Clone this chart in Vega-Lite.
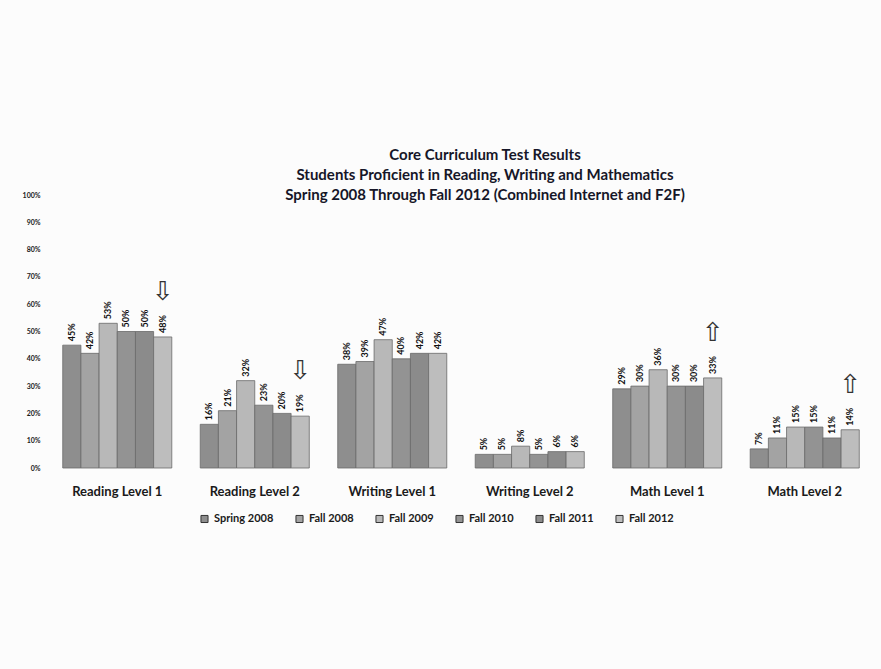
{
  "$schema": "https://vega.github.io/schema/vega-lite/v6.json",
  "width": 824,
  "height": 273,
  "autosize": "none",
  "padding": {"left": 49, "top": 195, "right": 8, "bottom": 201},
  "background": "#fcfcfc",
  "config": {"view": {"stroke": null}, "font": "Lato", "text": {"font": "Lato"}},
  "title": {
    "text": ["Core Curriculum Test Results", "Students Proficient in Reading, Writing and Mathematics", "Spring 2008 Through Fall 2012 (Combined Internet and F2F)"],
    "font": "Lato",
    "fontSize": 15,
    "fontWeight": "bold",
    "color": "#161628",
    "lineHeight": 20,
    "anchor": "middle",
    "frame": "group",
    "dx": 24,
    "offset": -12
  },
  "data": {
    "values": [
      {"test": "Reading Level 1", "term": "Spring 2008", "value": 0.45},
      {"test": "Reading Level 1", "term": "Fall 2008", "value": 0.42},
      {"test": "Reading Level 1", "term": "Fall 2009", "value": 0.53},
      {"test": "Reading Level 1", "term": "Fall 2010", "value": 0.50},
      {"test": "Reading Level 1", "term": "Fall 2011", "value": 0.50},
      {"test": "Reading Level 1", "term": "Fall 2012", "value": 0.48, "arrow": "⇩"},
      {"test": "Reading Level 2", "term": "Spring 2008", "value": 0.16},
      {"test": "Reading Level 2", "term": "Fall 2008", "value": 0.21},
      {"test": "Reading Level 2", "term": "Fall 2009", "value": 0.32},
      {"test": "Reading Level 2", "term": "Fall 2010", "value": 0.23},
      {"test": "Reading Level 2", "term": "Fall 2011", "value": 0.20},
      {"test": "Reading Level 2", "term": "Fall 2012", "value": 0.19, "arrow": "⇩"},
      {"test": "Writing Level 1", "term": "Spring 2008", "value": 0.38},
      {"test": "Writing Level 1", "term": "Fall 2008", "value": 0.39},
      {"test": "Writing Level 1", "term": "Fall 2009", "value": 0.47},
      {"test": "Writing Level 1", "term": "Fall 2010", "value": 0.40},
      {"test": "Writing Level 1", "term": "Fall 2011", "value": 0.42},
      {"test": "Writing Level 1", "term": "Fall 2012", "value": 0.42},
      {"test": "Writing Level 2", "term": "Spring 2008", "value": 0.05},
      {"test": "Writing Level 2", "term": "Fall 2008", "value": 0.05},
      {"test": "Writing Level 2", "term": "Fall 2009", "value": 0.08},
      {"test": "Writing Level 2", "term": "Fall 2010", "value": 0.05},
      {"test": "Writing Level 2", "term": "Fall 2011", "value": 0.06},
      {"test": "Writing Level 2", "term": "Fall 2012", "value": 0.06},
      {"test": "Math Level 1", "term": "Spring 2008", "value": 0.29},
      {"test": "Math Level 1", "term": "Fall 2008", "value": 0.30},
      {"test": "Math Level 1", "term": "Fall 2009", "value": 0.36},
      {"test": "Math Level 1", "term": "Fall 2010", "value": 0.30},
      {"test": "Math Level 1", "term": "Fall 2011", "value": 0.30},
      {"test": "Math Level 1", "term": "Fall 2012", "value": 0.33, "arrow": "⇧"},
      {"test": "Math Level 2", "term": "Spring 2008", "value": 0.07},
      {"test": "Math Level 2", "term": "Fall 2008", "value": 0.11},
      {"test": "Math Level 2", "term": "Fall 2009", "value": 0.15},
      {"test": "Math Level 2", "term": "Fall 2010", "value": 0.15},
      {"test": "Math Level 2", "term": "Fall 2011", "value": 0.11},
      {"test": "Math Level 2", "term": "Fall 2012", "value": 0.14, "arrow": "⇧"}
    ]
  },
  "encoding": {
    "x": {
      "field": "test",
      "type": "nominal",
      "sort": ["Reading Level 1", "Reading Level 2", "Writing Level 1", "Writing Level 2", "Math Level 1", "Math Level 2"],
      "scale": {"paddingInner": 0.207, "paddingOuter": 0.1},
      "axis": {
        "title": null,
        "labelAngle": 0,
        "labelFontSize": 13,
        "labelFontWeight": "bold",
        "labelColor": "#1a1a1a",
        "labelPadding": 17,
        "domain": false,
        "ticks": false
      }
    },
    "xOffset": {
      "field": "term",
      "type": "nominal",
      "sort": ["Spring 2008", "Fall 2008", "Fall 2009", "Fall 2010", "Fall 2011", "Fall 2012"]
    },
    "y": {
      "field": "value",
      "type": "quantitative",
      "scale": {"domain": [0, 1]},
      "axis": {
        "title": null,
        "format": ".0%",
        "values": [0, 0.1, 0.2, 0.3, 0.4, 0.5, 0.6, 0.7, 0.8, 0.9, 1],
        "labelFontSize": 7,
        "labelFontWeight": "bold",
        "labelColor": "#1a1a1a",
        "labelPadding": 9,
        "domain": false,
        "ticks": false,
        "grid": false
      }
    }
  },
  "layer": [
    {
      "mark": {"type": "bar", "stroke": "#6a6a6a", "strokeWidth": 0.8},
      "encoding": {
        "color": {
          "field": "term",
          "type": "nominal",
          "sort": ["Spring 2008", "Fall 2008", "Fall 2009", "Fall 2010", "Fall 2011", "Fall 2012"],
          "scale": {"range": ["#8e8e8e", "#a3a3a3", "#b8b8b8", "#939393", "#8b8b8b", "#bdbdbd"]},
          "legend": {
            "orient": "none",
            "legendX": 150,
            "legendY": 318,
            "direction": "horizontal",
            "title": null,
            "symbolType": "square",
            "symbolSize": 50,
            "symbolStrokeColor": "#333",
            "symbolStrokeWidth": 1,
            "labelFont": "Lato",
            "labelFontSize": 11,
            "labelFontWeight": "bold",
            "labelColor": "#1a1a1a",
            "columnPadding": 19
          }
        }
      }
    },
    {
      "mark": {"type": "text", "angle": 270, "align": "left", "baseline": "middle", "dx": 4, "fontSize": 9, "fontWeight": "bold", "color": "#111"},
      "encoding": {
        "text": {"field": "value", "type": "quantitative", "format": ".0%"}
      }
    },
    {
      "transform": [{"filter": "datum.arrow != null"}],
      "mark": {"type": "text", "baseline": "bottom", "dy": -32, "fontSize": 26, "font": "DejaVu Sans", "color": "#333"},
      "encoding": {
        "text": {"field": "arrow", "type": "nominal"}
      }
    }
  ]
}
